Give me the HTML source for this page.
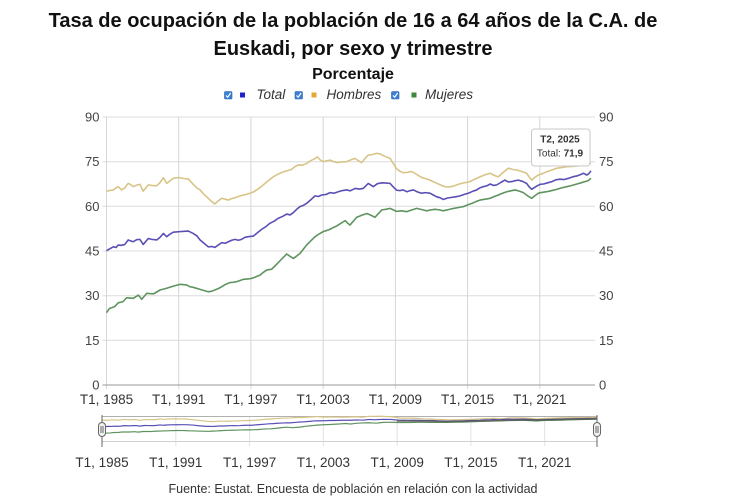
<!DOCTYPE html>
<html>
<head>
<meta charset="utf-8">
<style>
  html,body{margin:0;padding:0;background:#fff;}
  body{width:730px;height:500px;overflow:hidden;}
  svg{display:block;font-family:"Liberation Sans",Arial,sans-serif;}
</style>
</head>
<body>
<svg width="730" height="500" viewBox="0 0 730 500" xmlns="http://www.w3.org/2000/svg">
  <defs>
    <polyline id="sT" fill="none" vector-effect="non-scaling-stroke" stroke-linejoin="round" points="0,45.1 1,45.7 2.3,46.4 3.2,46.2 3.9,47.0 5,46.9 6.1,47.2 7.2,48.7 8,48.4 8.9,48.1 10,48.8 11.1,48.9 12.2,47.2 13.9,49.2 15,48.9 16.7,48.7 17.8,49.6 18.9,50.9 20,49.8 21,50.6 22.2,51.3 24.4,51.5 25.8,51.6 27.2,51.7 28.8,50.9 30,50.1 31.1,48.7 32.5,47.5 33.8,46.4 35,46.5 36,46.2 37,46.9 38.3,47.8 39.5,47.6 40.5,48.1 41.6,48.6 42.7,48.9 43.8,48.6 44.9,48.9 46,49.6 47.1,49.8 48.8,50.0 50,51.0 51.6,52.3 53,53.2 54.3,54.3 55.7,55.0 57.1,56.0 58.5,56.6 59.9,57.4 61,57.1 62.1,57.9 63.2,59.0 64.3,59.9 65.4,60.3 66.5,61.0 68,62.3 69.3,63.5 70.4,63.3 71.5,63.8 73,64.0 74.3,64.6 75.6,64.4 77,64.9 78.4,65.3 79.8,65.5 81,65.2 82.6,66.0 84,65.8 85.3,66.0 87,67.7 88.7,66.6 90,67.6 91.5,67.9 93,67.8 94.2,67.7 95.3,66.5 96.4,65.4 97.5,65.3 98.6,65.5 99.8,64.9 101,65.3 102,65.5 103.4,64.8 104.7,64.4 106,64.6 107.5,64.4 108.6,63.8 109.7,63.2 110.8,62.9 111.9,62.3 113.3,62.8 114.7,63.0 116,63.2 117.5,63.5 118.9,64.0 120.2,64.4 121.6,65.0 123,65.5 124.1,66.2 125.2,66.6 126.4,66.9 127.5,67.5 128.6,67.0 129.7,67.2 131,68.0 132.4,68.8 133.5,68.2 134.7,68.3 135.8,68.6 136.9,68.8 138.2,68.4 139.6,67.7 140.5,66.5 141.3,65.7 142.2,66.3 143,66.8 144.1,67.4 145.2,67.5 146.6,67.9 148,68.3 149.3,68.9 150.7,69.1 152.1,69.0 153.5,69.4 154.9,69.9 156.3,70.2 157.4,70.6 158.5,71.1 159.6,70.5 160.3,71.0 161,71.9"/>
    <polyline id="sH" fill="none" vector-effect="non-scaling-stroke" stroke-linejoin="round" points="0,65.1 1,65.3 2.3,65.5 3.2,66.2 3.9,66.6 5,65.5 6.1,66.2 7.2,67.7 8,67.3 8.9,66.6 10,67.1 11.1,67.4 12.2,65.1 13.9,67.2 15,67.0 16.7,66.9 17.8,68.0 18.9,69.6 20,67.7 21,68.5 22.2,69.4 23.5,69.6 24.4,69.6 25.8,69.3 27.2,69.2 28.8,67.4 30,66.2 31.1,65.5 32.2,64.2 33.3,63.2 34.5,62.0 36,60.8 37,61.7 38.3,62.7 39.4,62.4 40.5,62.1 41.3,62.5 42.1,62.7 43.3,63.1 44.4,63.5 46,63.9 47.7,64.4 48.8,64.8 49.9,65.5 51.3,66.5 52.7,67.7 54,68.8 55.4,69.9 57,70.8 58.8,71.6 60.2,72.0 61.5,72.4 62.6,73.3 63.7,73.9 65,73.8 66.5,74.4 67.3,75.0 68.2,75.5 69.2,76.0 70.1,76.6 71,75.6 72,75.0 73.2,75.3 74.3,75.5 75.4,75.0 76.5,74.7 78.2,74.9 79.8,75.0 81.2,75.6 82.6,76.1 83.7,75.3 84.8,74.7 86,76.2 87,77.2 88.4,77.4 89.8,77.8 90.9,77.6 92,77.0 93.2,76.5 94.2,76.1 95.3,74.4 96.4,72.6 97.5,71.8 98.6,71.3 100,71.4 101,71.7 102,71.4 103.4,70.5 104.7,69.7 106,69.3 107.5,68.8 108.9,68.1 110.3,67.5 111.4,67.0 112.5,66.6 113.9,66.5 115.3,66.8 116.6,67.3 118,67.7 119.4,68.0 120.8,68.3 122.4,69.1 124.1,69.9 125.8,70.6 127.5,71.1 128.8,70.4 130.2,69.9 131.8,71.4 133.5,72.8 134.9,72.4 136.3,72.2 138,71.7 139.6,71.1 140.5,69.8 141.3,68.8 142.4,69.8 143.5,70.5 144.9,71.0 146.3,71.6 148,72.2 149.6,72.8 151.2,73.0 152.9,73.3 154.6,73.4 156.3,73.5 158,73.9 159.6,74.2 161,74.5"/>
    <polyline id="sM" fill="none" vector-effect="non-scaling-stroke" stroke-linejoin="round" points="0,24.3 1,25.7 2.7,26.3 3.9,27.6 5.5,28.0 6.7,29.3 8.9,29.1 10.6,30.2 11.7,28.8 13.4,30.8 15.6,30.6 17.8,31.9 20,32.5 22.2,33.2 24.4,33.8 26.6,33.6 27.7,33.0 28.8,32.8 31.1,32.1 32.5,31.7 33.8,31.3 35,31.5 36,31.9 37.2,32.4 38.3,33.0 39.6,33.8 41,34.4 42.2,34.5 43.3,34.7 44.4,35.1 45.5,35.5 47,35.6 48.3,35.8 49.6,36.3 51,36.9 52.1,37.8 53.2,38.6 54.9,38.9 56,40.0 57.1,41.1 58.5,42.6 59.9,44.0 61,43.2 62.1,42.5 63.2,43.3 64.3,44.2 65.4,45.6 66.5,47.0 67.9,48.4 69.3,49.8 70.6,50.7 72,51.5 73.2,51.9 74.3,52.3 75.4,52.9 76.5,53.4 77.9,54.3 79.3,55.2 80.1,54.4 80.9,53.7 82,55.0 83.1,56.3 84.8,57.0 86.5,57.6 87.9,57.0 89.2,56.3 90.4,57.6 91.5,58.8 92.8,59.0 94.2,59.3 95.3,58.8 96.4,58.3 98,58.5 99.8,58.2 101.5,58.8 103.1,59.3 104.8,58.9 106.4,58.5 107.8,58.8 109.2,59.0 110.6,58.8 111.9,58.5 113.6,58.9 115.3,59.3 117,59.6 118.6,59.9 120,60.5 121.4,61.0 122.8,61.6 124.1,62.1 125.8,62.4 127.5,62.7 128.9,63.3 130.2,63.8 131.6,64.4 133,64.9 134.4,65.2 135.8,65.5 137.2,65.1 138.5,64.6 140,63.5 141.3,62.7 142.4,63.6 143.5,64.4 144.9,64.7 146.3,64.9 148,65.3 149.6,65.7 151.2,66.2 152.9,66.6 154.6,67.0 156.3,67.5 157.7,67.9 159,68.3 160,68.6 161,69.4"/>
  </defs>

  <!-- Title -->
  <text x="353" y="27" text-anchor="middle" font-size="20" font-weight="bold" fill="#111">Tasa de ocupación de la población de 16 a 64 años de la C.A. de</text>
  <text x="353" y="55" text-anchor="middle" font-size="20" font-weight="bold" fill="#111">Euskadi, por sexo y trimestre</text>
  <text x="353" y="79" text-anchor="middle" font-size="16" font-weight="bold" fill="#111">Porcentaje</text>

  <!-- Legend -->
  <g>
    <rect x="224.5" y="91.5" width="7.5" height="7.5" rx="1" fill="#3d7fd6" stroke="#2b62aa" stroke-width="0.6"/>
    <polyline points="226,95.5 227.7,97.2 230.6,93" fill="none" stroke="#fff" stroke-width="1.2"/>
    <rect x="240" y="92.5" width="5" height="5" fill="#2121cc"/>
    <text x="256.5" y="99" font-size="13.5" font-style="italic" fill="#333">Total</text>

    <rect x="295" y="91.5" width="7.5" height="7.5" rx="1" fill="#3d7fd6" stroke="#2b62aa" stroke-width="0.6"/>
    <polyline points="296.5,95.5 298.2,97.2 301.1,93" fill="none" stroke="#fff" stroke-width="1.2"/>
    <rect x="311.5" y="92.5" width="5" height="5" fill="#e5a936"/>
    <text x="326.5" y="99" font-size="13.5" font-style="italic" fill="#333">Hombres</text>

    <rect x="391.5" y="91.5" width="7.5" height="7.5" rx="1" fill="#3d7fd6" stroke="#2b62aa" stroke-width="0.6"/>
    <polyline points="393,95.5 394.7,97.2 397.6,93" fill="none" stroke="#fff" stroke-width="1.2"/>
    <rect x="411.5" y="92.5" width="5" height="5" fill="#3b8a3b"/>
    <text x="425" y="99" font-size="13.5" font-style="italic" fill="#333">Mujeres</text>
  </g>

  <!-- Horizontal gridlines -->
  <g stroke="#dcdcdc" stroke-width="1">
    <line x1="102.5" y1="117" x2="595" y2="117"/>
    <line x1="102.5" y1="161.7" x2="595" y2="161.7"/>
    <line x1="102.5" y1="206.3" x2="595" y2="206.3"/>
    <line x1="102.5" y1="251" x2="595" y2="251"/>
    <line x1="102.5" y1="295.7" x2="595" y2="295.7"/>
    <line x1="102.5" y1="340.3" x2="595" y2="340.3"/>
  </g>
  <!-- Vertical gridlines -->
  <g stroke="#d6d6d6" stroke-width="1">
    <line x1="106.5" y1="117" x2="106.5" y2="389"/>
    <line x1="178.7" y1="117" x2="178.7" y2="389"/>
    <line x1="250.9" y1="117" x2="250.9" y2="389"/>
    <line x1="323.2" y1="117" x2="323.2" y2="389"/>
    <line x1="395.4" y1="117" x2="395.4" y2="389"/>
    <line x1="467.6" y1="117" x2="467.6" y2="389"/>
    <line x1="539.8" y1="117" x2="539.8" y2="389"/>
  </g>
  <line x1="102.5" y1="385" x2="595" y2="385" stroke="#9a9a9a" stroke-width="1"/>

  <!-- Y labels left -->
  <g font-size="13" fill="#444" text-anchor="end">
    <text x="99.5" y="121.5">90</text>
    <text x="99.5" y="166.2">75</text>
    <text x="99.5" y="210.8">60</text>
    <text x="99.5" y="255.5">45</text>
    <text x="99.5" y="300.2">30</text>
    <text x="99.5" y="344.8">15</text>
    <text x="99.5" y="389.5">0</text>
  </g>
  <!-- Y labels right -->
  <g font-size="13" fill="#444" text-anchor="start">
    <text x="599" y="121.5">90</text>
    <text x="599" y="166.2">75</text>
    <text x="599" y="210.8">60</text>
    <text x="599" y="255.5">45</text>
    <text x="599" y="300.2">30</text>
    <text x="599" y="344.8">15</text>
    <text x="599" y="389.5">0</text>
  </g>
  <!-- X labels -->
  <g font-size="13.5" fill="#333" text-anchor="middle">
    <text x="106.5" y="404">T1, 1985</text>
    <text x="178.7" y="404">T1, 1991</text>
    <text x="250.9" y="404">T1, 1997</text>
    <text x="323.2" y="404">T1, 2003</text>
    <text x="395.4" y="404">T1, 2009</text>
    <text x="467.6" y="404">T1, 2015</text>
    <text x="539.8" y="404">T1, 2021</text>
  </g>

  <!-- Series main -->
  <g transform="translate(106.5 385) scale(3.0093 -2.978)">
    <use href="#sH" stroke="#d8c487" stroke-width="1.6"/>
    <use href="#sT" stroke="#5a4fb5" stroke-width="1.6"/>
    <use href="#sM" stroke="#5f935f" stroke-width="1.6"/>
  </g>

  <!-- Tooltip -->
  <rect x="531.5" y="129" width="58.5" height="37" rx="3" fill="#fff" fill-opacity="0.92" stroke="#c8c8c8" stroke-width="1"/>
  <text x="560" y="142.3" text-anchor="middle" font-size="10" font-weight="bold" fill="#333">T2, 2025</text>
  <text x="560" y="156.5" text-anchor="middle" font-size="10" fill="#333">Total: <tspan font-weight="bold">71,9</tspan></text>

  <!-- Navigator -->
  <g stroke="#e2e2e2" stroke-width="1">
    <line x1="175.8" y1="416" x2="175.8" y2="446"/>
    <line x1="249.6" y1="416" x2="249.6" y2="446"/>
    <line x1="323.4" y1="416" x2="323.4" y2="446"/>
    <line x1="397.2" y1="416" x2="397.2" y2="446"/>
    <line x1="470.9" y1="416" x2="470.9" y2="446"/>
    <line x1="544.7" y1="416" x2="544.7" y2="446"/>
  </g>
  <line x1="102" y1="441.5" x2="597" y2="441.5" stroke="#d0d0d0" stroke-width="1"/>
  <line x1="102" y1="416.5" x2="597" y2="416.5" stroke="#b0b0b0" stroke-width="1"/>
  <g transform="translate(102 441.5) scale(3.0745 -0.3256)">
    <use href="#sH" stroke="#d8c487" stroke-width="1.2"/>
    <use href="#sT" stroke="#5a4fb5" stroke-width="1.2"/>
    <use href="#sM" stroke="#5f935f" stroke-width="1.2"/>
  </g>
  <polyline points="397,420.8 430,421.2 450,421.5 480,420.9 510,420.2 540,419.9 570,419.2 597,418.8" fill="none" stroke="#555" stroke-width="1.8" stroke-opacity="0.75"/>

  <!-- Handles -->
  <g stroke="#666" stroke-width="1">
    <line x1="102" y1="415" x2="102" y2="447"/>
    <rect x="98.5" y="422.5" width="7" height="14" rx="3.5" fill="#f2f2f2"/>
    <line x1="101" y1="426" x2="101" y2="433"/>
    <line x1="103" y1="426" x2="103" y2="433"/>
    <line x1="597" y1="415" x2="597" y2="447"/>
    <rect x="593.5" y="422.5" width="7" height="14" rx="3.5" fill="#f2f2f2"/>
    <line x1="596" y1="426" x2="596" y2="433"/>
    <line x1="598" y1="426" x2="598" y2="433"/>
  </g>

  <!-- Navigator labels -->
  <g font-size="13.5" fill="#333" text-anchor="middle">
    <text x="102" y="467">T1, 1985</text>
    <text x="175.8" y="467">T1, 1991</text>
    <text x="249.6" y="467">T1, 1997</text>
    <text x="323.4" y="467">T1, 2003</text>
    <text x="397.2" y="467">T1, 2009</text>
    <text x="470.9" y="467">T1, 2015</text>
    <text x="544.7" y="467">T1, 2021</text>
  </g>

  <!-- Footer -->
  <text x="353" y="493" text-anchor="middle" font-size="12.5" fill="#333">Fuente: Eustat. Encuesta de población en relación con la actividad</text>
</svg>
</body>
</html>
